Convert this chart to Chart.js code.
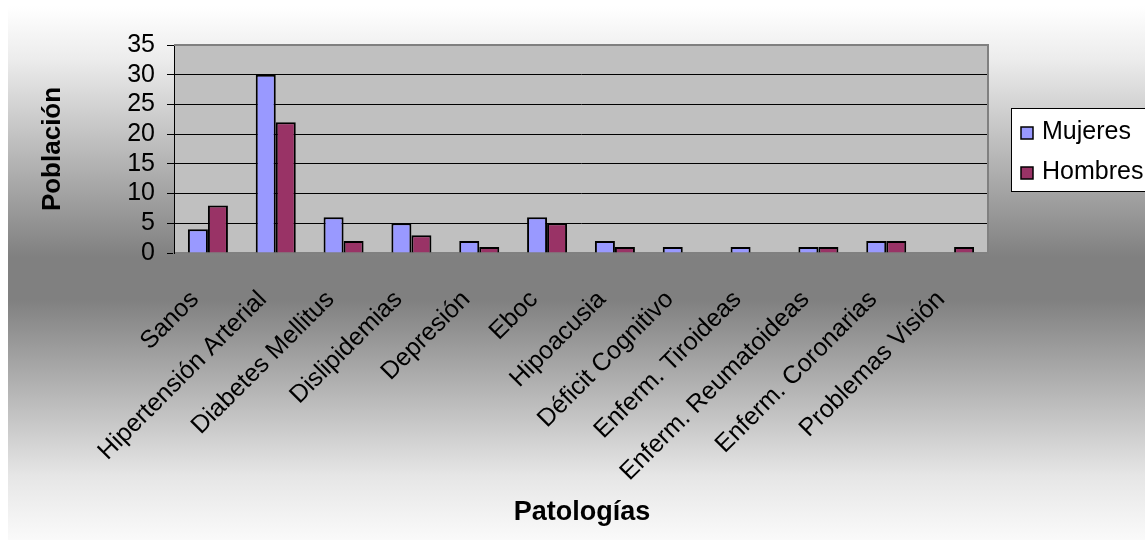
<!DOCTYPE html>
<html>
<head>
<meta charset="utf-8">
<script src="https://cdn.jsdelivr.net/npm/chart.js@4.4.1/dist/chart.umd.min.js"></script>
<style>
  html, body { margin: 0; padding: 0; background: #ffffff; }
  #wrap { width: 1145px; height: 542px; position: relative; }
</style>
</head>
<body>
<div id="wrap"><canvas id="chart" width="1145" height="542"></canvas></div>
<script>
const categories = [
  'Sanos', 'Hipertensión Arterial', 'Diabetes Mellitus', 'Dislipidemias',
  'Depresión', 'Eboc', 'Hipoacusia', 'Déficit Cognitivo',
  'Enferm. Tiroideas', 'Enferm. Reumatoideas', 'Enferm. Coronarias', 'Problemas Visión'
];
const mujeres = [4, 30, 6, 5, 2, 6, 2, 1, 1, 1, 2, 0];
const hombres = [8, 22, 2, 3, 1, 5, 1, 0, 0, 1, 2, 1];
const seriesNames = ['Mujeres', 'Hombres'];
const seriesColors = ['#9999ff', '#993366'];
const yTicks = [0, 5, 10, 15, 20, 25, 30, 35];

const FONT = "'Liberation Sans', Arial, sans-serif";
const PLOT_LEFT = 174, PLOT_BOTTOM = 253, PAD_LEFT = 8;

// Grey band behind the whole chart, plus the plot-area fill
const backdrop = {
  id: 'backdrop',
  beforeDraw(chart) {
    const { ctx, chartArea: a } = chart;
    ctx.save();
    ctx.fillStyle = '#ffffff';
    ctx.fillRect(0, 0, chart.width, chart.height);
    const top = 6, bottom = 540;
    const g = ctx.createLinearGradient(0, top, 0, bottom);
    g.addColorStop(0, '#ffffff');
    g.addColorStop(0.10, '#ececec');
    g.addColorStop(0.47, '#808080');
    g.addColorStop(0.55, '#808080');
    g.addColorStop(0.88, '#e6e6e6');
    g.addColorStop(1, '#fafafa');
    ctx.fillStyle = g;
    ctx.fillRect(8, top, chart.width - 8, bottom - top);
    ctx.fillStyle = '#c0c0c0';
    ctx.fillRect(a.left, a.top, a.right - a.left, a.bottom - a.top);
    ctx.restore();
  },
  beforeDatasetsDraw(chart) {
    const { ctx, chartArea: a } = chart;
    ctx.save();
    ctx.strokeStyle = '#808080';
    ctx.lineWidth = 2;
    ctx.beginPath();
    ctx.moveTo(a.left, a.top);
    ctx.lineTo(a.right, a.top);
    ctx.lineTo(a.right, a.bottom);
    ctx.stroke();
    ctx.restore();
  }
};

// Axis titles and the boxed legend on the right
const annotations = {
  id: 'annotations',
  afterDraw(chart) {
    const { ctx, chartArea: a } = chart;
    ctx.save();
    ctx.fillStyle = '#000000';
    ctx.textAlign = 'center';
    ctx.textBaseline = 'middle';
    ctx.font = 'bold 27px ' + FONT;
    ctx.fillText('Patologías', 582, 513);
    ctx.font = 'bold 26px ' + FONT;
    ctx.translate(53, (a.top + a.bottom) / 2);
    ctx.rotate(-Math.PI / 2);
    ctx.fillText('Población', 0, 0);
    ctx.restore();

    ctx.save();
    ctx.fillStyle = '#ffffff';
    ctx.strokeStyle = '#000000';
    ctx.lineWidth = 1;
    ctx.fillRect(1011, 108, 140, 83);
    ctx.strokeRect(1011.5, 108.5, 140, 83);
    ctx.font = '25px ' + FONT;
    ctx.textAlign = 'left';
    ctx.textBaseline = 'alphabetic';
    const rows = [{ y: 127, base: 139 }, { y: 167, base: 179 }];
    seriesNames.forEach((name, i) => {
      ctx.fillStyle = seriesColors[i];
      ctx.fillRect(1021, rows[i].y, 12, 12);
      ctx.lineWidth = 1.5;
      ctx.strokeRect(1021, rows[i].y, 12, 12);
      ctx.fillStyle = '#000000';
      ctx.fillText(name, 1042, rows[i].base);
    });
    ctx.restore();
  }
};

new Chart(document.getElementById('chart'), {
  type: 'bar',
  data: {
    labels: categories,
    datasets: [
      { label: seriesNames[0], data: mujeres, backgroundColor: seriesColors[0],
        borderColor: '#000000', borderWidth: 2, borderSkipped: 'bottom' },
      { label: seriesNames[1], data: hombres, backgroundColor: seriesColors[1],
        borderColor: '#000000', borderWidth: 2, borderSkipped: 'bottom' }
    ]
  },
  options: {
    responsive: false,
    animation: false,
    events: [],
    layout: { padding: { left: PAD_LEFT, top: 45, right: 1145 - 988, bottom: 0 } },
    datasets: { bar: { categoryPercentage: 0.59, barPercentage: 1.0 } },
    plugins: { legend: { display: false }, tooltip: { enabled: false } },
    scales: {
      x: {
        grid: { display: false, drawTicks: false },
        border: { display: true, color: '#808080', width: 2 },
        ticks: {
          autoSkip: false, minRotation: 45, maxRotation: 45,
          color: '#000000', padding: 32, labelOffset: -13,
          font: { family: FONT, size: 25 }
        },
        afterFit(scale) { scale.height = 542 - PLOT_BOTTOM; }
      },
      y: {
        min: yTicks[0], max: yTicks[yTicks.length - 1],
        afterBuildTicks(scale) { scale.ticks = yTicks.map(v => ({ value: v })); },
        grid: { color: '#000000', lineWidth: 1, tickLength: 7, tickColor: '#000000', drawTicks: true },
        border: { display: true, color: '#000000', width: 1 },
        ticks: { autoSkip: false, color: '#000000', padding: 12, font: { family: FONT, size: 25 } },
        afterFit(scale) { scale.width = PLOT_LEFT - PAD_LEFT; }
      }
    }
  },
  plugins: [backdrop, annotations]
});
</script>
</body>
</html>
